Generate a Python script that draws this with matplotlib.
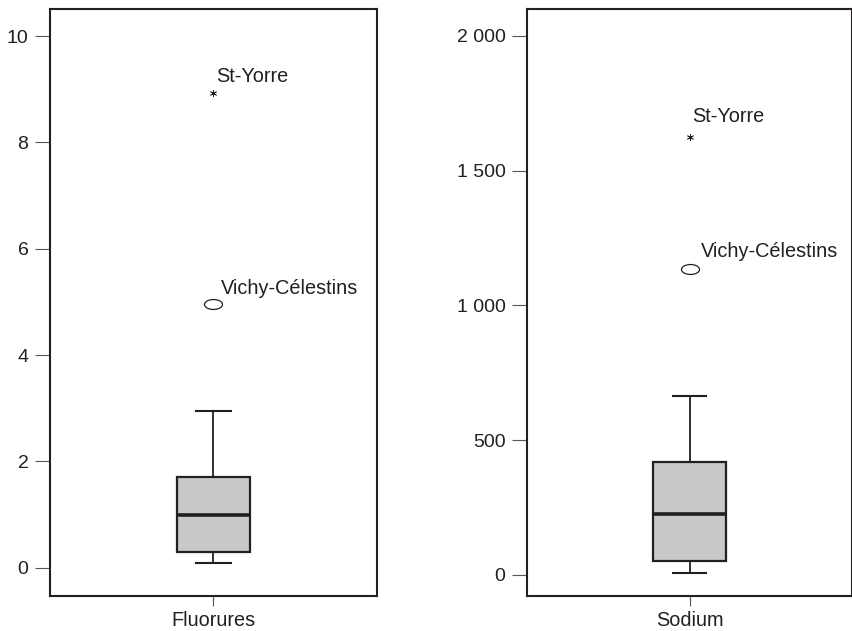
import matplotlib
matplotlib.use("Agg")
import matplotlib.pyplot as plt
from matplotlib.path import Path
from matplotlib.transforms import Affine2D

plt.rcParams['font.family'] = ['Liberation Sans', 'DejaVu Sans']

# box statistics per variable: whisker low, Q1, median, Q3, whisker high
variables = ["Fluorures", "Sodium"]
whislo = [0.09, 8.5]
q1 = [0.29, 53]
medians = [1.00, 225]
q3 = [1.70, 418]
whishi = [2.95, 665]

# labelled outliers: far (star) and moderate (circle)
outlier_names = ["St-Yorre", "Vichy-Célestins"]
far_values = [8.93, 1626]
mild_values = [4.96, 1134]

yticks = [[0, 2, 4, 6, 8, 10], [0, 500, 1000, 1500, 2000]]
ytick_labels = [["0", "2", "4", "6", "8", "10"],
                ["0", "500", "1 000", "1 500", "2 000"]]
ylims = [(-0.53, 10.51), (-78, 2100)]

INK = "#231f20"
FILL = "#c8c9cb"

# flattened ellipse used for the moderate outliers
ellipse = Path.unit_circle().transformed(Affine2D().scale(1.0, 0.55))

fig = plt.figure(figsize=(8.53, 6.31), dpi=100)
axes = [fig.add_axes([50 / 853, 35 / 631, 327 / 853, 587 / 631]),
        fig.add_axes([527 / 853, 35 / 631, 325 / 853, 587 / 631])]

# label offsets in pixels (dx, dy) for star and circle
star_offsets = [(3, 11), (2.5, 15)]
circle_offsets = [(7, 10), (11, 12.5)]

for i, ax in enumerate(axes):
    stats = [dict(whislo=whislo[i], q1=q1[i], med=medians[i], q3=q3[i],
                  whishi=whishi[i], fliers=[], label=variables[i])]
    ax.bxp(stats, positions=[1], widths=0.222, capwidths=0.104,
           patch_artist=True, showfliers=False,
           boxprops=dict(facecolor=FILL, edgecolor=INK, linewidth=1.6),
           medianprops=dict(color=INK, linewidth=2.6),
           whiskerprops=dict(color=INK, linewidth=1.3),
           capprops=dict(color=INK, linewidth=1.5))

    ax.plot([1], [far_values[i]], marker=(6, 2, 0), markersize=5,
            color=INK, markeredgewidth=0.6, linestyle="none")
    ax.plot([1], [mild_values[i]], marker=ellipse, markersize=13,
            markerfacecolor="white", markeredgecolor=INK,
            markeredgewidth=0.9, linestyle="none")

    ax.annotate(outlier_names[0], (1, far_values[i]),
                xytext=star_offsets[i], textcoords="offset pixels",
                ha="left", va="baseline", fontsize=14.3, color=INK)
    ax.annotate(outlier_names[1], (1, mild_values[i]),
                xytext=circle_offsets[i], textcoords="offset pixels",
                ha="left", va="baseline", fontsize=14.3, color=INK)

    ax.set_xlim(0.5, 1.5)
    ax.set_ylim(*ylims[i])
    ax.set_yticks(yticks[i])
    ax.set_yticklabels(ytick_labels[i])
    ax.set_xticks([1])
    ax.set_xticklabels([variables[i]])

    for side in ax.spines.values():
        side.set_color(INK)
        side.set_linewidth(1.5)
    ax.tick_params(axis="y", length=10.5, width=0.8, color="#555555",
                   pad=5, labelsize=14, labelcolor=INK)
    ax.tick_params(axis="x", length=7.5, width=0.8, color="#555555",
                   pad=3, labelsize=14.3, labelcolor=INK)

fig.savefig("out.png", dpi=100)
